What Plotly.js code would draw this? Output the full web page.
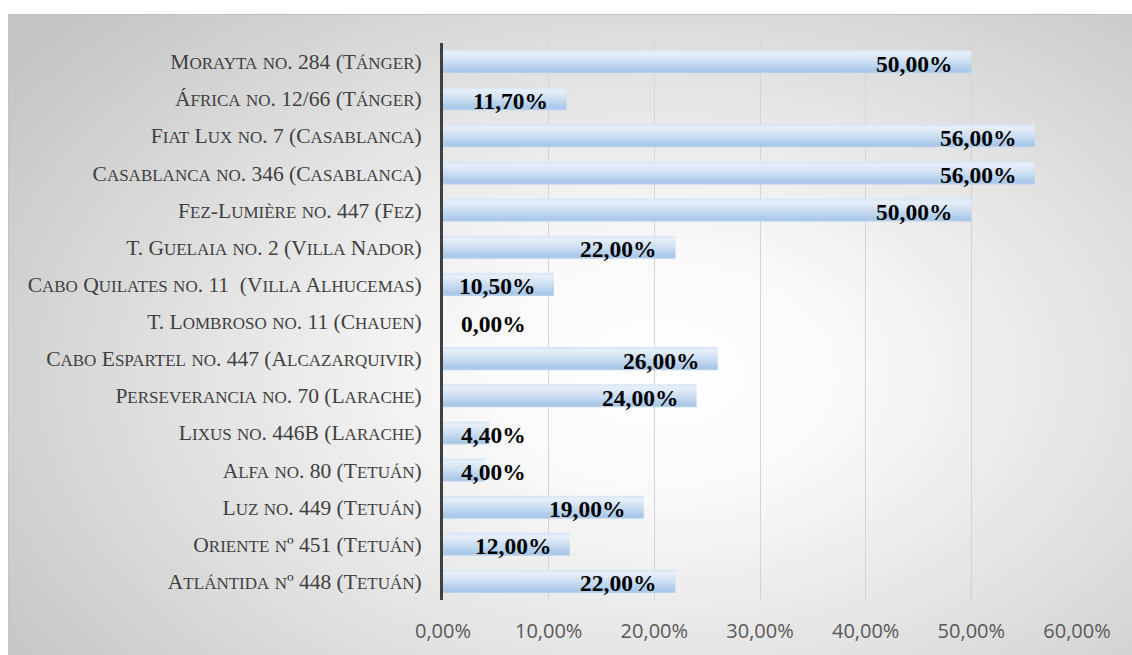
<!DOCTYPE html>
<html>
<head>
<meta charset="utf-8">
<script src="https://cdn.plot.ly/plotly-3.0.1.min.js"></script>
<style>
  html, body { margin: 0; padding: 0; background: #ffffff; }
  #wrap { position: relative; width: 1132px; height: 655px; overflow: hidden; }
  #bg { position: absolute; left: 8px; top: 14px; width: 1124px; height: 641px;
        background: radial-gradient(ellipse 72% 82% at 58% 56%, #ffffff 0%, #fafafa 22%, #e2e2e2 58%, #c4c4c4 100%);
        border-top: 1px solid #c0c0c0; border-left: 1px solid #c4c4c4; }
  #chart { position: absolute; left: 0; top: 0; width: 1132px; height: 655px; }
</style>
</head>
<body>
<div id="wrap">
  <div id="bg"></div>
  <div id="chart"></div>
</div>
<script>
// Categories, top to bottom as in the reference
const categories = [
  "Morayta no. 284 (Tánger)",
  "África no. 12/66 (Tánger)",
  "Fiat Lux no. 7 (Casablanca)",
  "Casablanca no. 346 (Casablanca)",
  "Fez-Lumière no. 447 (Fez)",
  "T. Guelaia no. 2 (Villa Nador)",
  "Cabo Quilates no. 11 \u00a0(Villa Alhucemas)",
  "T. Lombroso no. 11 (Chauen)",
  "Cabo Espartel no. 447 (Alcazarquivir)",
  "Perseverancia no. 70 (Larache)",
  "Lixus no. 446B (Larache)",
  "Alfa no. 80 (Tetuán)",
  "Luz no. 449 (Tetuán)",
  "Oriente nº 451 (Tetuán)",
  "Atlántida nº 448 (Tetuán)"
];
// Values in percent
const values = [50.00, 11.70, 56.00, 56.00, 50.00, 22.00, 10.50, 0.00, 26.00, 24.00, 4.40, 4.00, 19.00, 12.00, 22.00];
const xTickValues = [0, 10, 20, 30, 40, 50, 60];

const W = 1132, H = 655;
const M = { l: 443, r: 55, t: 43, b: 55 };
const X_MAX = 60;
const BIG = 21.5, SMALL = 17;

function smallCaps(s) {
  return s.replace(/\p{Ll}+/gu, m => '<span style="font-size:' + SMALL + 'px">' + m.toUpperCase() + '</span>');
}
function fmt(v) { return v.toFixed(2).replace('.', ',') + '%'; }

const labelFont = { family: "Liberation Serif, Times New Roman, serif", size: 23.5, color: "#000000", weight: 700 };
const pxPerUnit = (W - M.l - M.r) / X_MAX;

const annotations = categories.map((c, i) => {
  const txt = fmt(values[i]);
  let w = 0;
  for (const ch of txt) w += (ch === ',' ? 0.25 : ch === '%' ? 1.0 : 0.5) * labelFont.size;
  const barPx = values[i] * pxPerUnit;
  const fitsInside = barPx - 17 - w >= 16;
  return {
    x: fitsInside ? values[i] : 0,
    y: c,
    xref: 'x', yref: 'y',
    text: '<b>' + txt + '</b>',
    showarrow: false,
    xanchor: fitsInside ? 'right' : 'left',
    xshift: fitsInside ? -17 : 16,
    yshift: -2,
    font: labelFont
  };
});

const trace = {
  type: 'bar',
  orientation: 'h',
  x: values,
  y: categories,
  marker: { color: '#bcd3ee', line: { width: 0 } },
  hoverinfo: 'none'
};

const layout = {
  width: W, height: H,
  margin: M,
  paper_bgcolor: 'rgba(0,0,0,0)',
  plot_bgcolor: 'rgba(0,0,0,0)',
  showlegend: false,
  bargap: 0.38,
  xaxis: {
    range: [0, X_MAX],
    tickvals: xTickValues,
    ticktext: xTickValues.map(fmt),
    showgrid: true, gridcolor: '#d4d4d4', gridwidth: 1,
    zeroline: false, showline: false,
    ticks: 'outside', ticklen: 13, tickcolor: 'rgba(0,0,0,0)',
    tickfont: { family: "Open Sans, sans-serif", size: 20, color: '#595959' },
    fixedrange: true
  },
  yaxis: {
    type: 'category',
    autorange: 'reversed',
    tickvals: categories,
    ticktext: categories.map(smallCaps),
    showgrid: false, zeroline: false,
    showline: true, linecolor: '#404040', linewidth: 3,
    ticks: 'outside', ticklen: 14, tickcolor: 'rgba(0,0,0,0)',
    tickfont: { family: "Liberation Serif, Times New Roman, serif", size: BIG, color: '#404040' },
    fixedrange: true
  },
  annotations: annotations
};

Plotly.newPlot('chart', [trace], layout, { displayModeBar: false, staticPlot: true }).then(gd => {
  const svg = gd.querySelector('svg.main-svg');
  const ns = 'http://www.w3.org/2000/svg';
  let defs = svg.querySelector('defs');
  if (!defs) { defs = document.createElementNS(ns, 'defs'); svg.insertBefore(defs, svg.firstChild); }
  const grad = document.createElementNS(ns, 'linearGradient');
  grad.setAttribute('id', 'barGrad');
  grad.setAttribute('x1', '0'); grad.setAttribute('y1', '0');
  grad.setAttribute('x2', '0'); grad.setAttribute('y2', '1');
  [['0%', '#d6e5f5'], ['15%', '#e7eff9'], ['55%', '#c8dcf1'], ['90%', '#a8c7e8'], ['100%', '#bad2ed']].forEach(([o, c]) => {
    const st = document.createElementNS(ns, 'stop');
    st.setAttribute('offset', o); st.setAttribute('stop-color', c);
    grad.appendChild(st);
  });
  defs.appendChild(grad);
  gd.querySelectorAll('.bars path').forEach(p => { p.style.fill = 'url(#barGrad)'; });
});
</script>
</body>
</html>
